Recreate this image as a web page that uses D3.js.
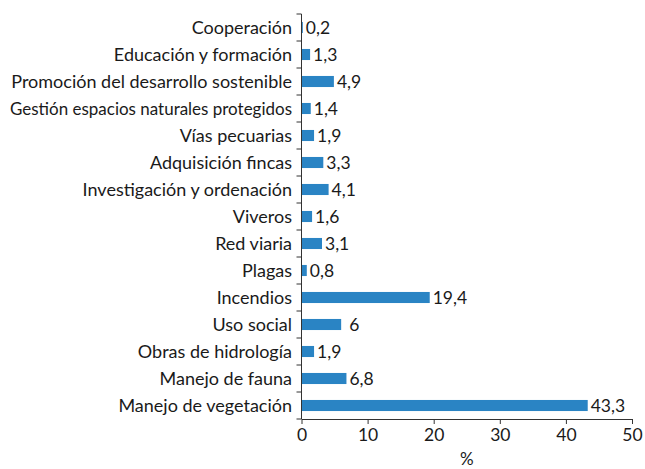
<!DOCTYPE html>
<html lang="es">
<head>
<meta charset="UTF-8">
<title>Inversión por actuación</title>
<script src="https://d3js.org/d3.v7.min.js"></script>
<style>
  body { margin: 0; background: #fff; }
  svg text { font-family: "Lato", "Noto Sans", sans-serif; fill: #1a1a1a; }
</style>
</head>
<body>
<div id="chart"></div>
<script>
    // categorías de arriba abajo
    var categories = [
        "Cooperación",
        "Educación y formación",
        "Promoción del desarrollo sostenible",
        "Gestión espacios naturales protegidos",
        "Vías pecuarias",
        "Adquisición fincas",
        "Investigación y ordenación",
        "Viveros",
        "Red viaria",
        "Plagas",
        "Incendios",
        "Uso social",
        "Obras de hidrología",
        "Manejo de fauna",
        "Manejo de vegetación"
    ];
    var values = [0.2, 1.3, 4.9, 1.4, 1.9, 3.3, 4.1, 1.6, 3.1, 0.8, 19.4, 6, 1.9, 6.8, 43.3];
    var xTicks = [0, 10, 20, 30, 40, 50];

    var width = 645, height = 469;
    var margin = { top: 14, right: 13, bottom: 50, left: 301.5 };

    var svg = d3.select("#chart").append("svg")
        .attr("width", width)
        .attr("height", height);

    var x = d3.scaleLinear()
        .domain([0, 50])
        .range([margin.left, width - margin.right]);

    var y = d3.scaleBand()
        .domain(categories)
        .range([margin.top, height - margin.bottom])
        .paddingInner(0.59)
        .paddingOuter(0.295);

    var fmt = function(v) { return String(v).replace(".", ","); };

    // barras
    svg.append("g")
        .selectAll("rect")
        .data(values)
        .enter().append("rect")
        .attr("x", x(0))
        .attr("y", (d, i) => y(categories[i]))
        .attr("width", d => x(d) - x(0))
        .attr("height", y.bandwidth())
        .attr("fill", "#2a84c4");

    // etiquetas de valor
    svg.append("g")
        .selectAll("text")
        .data(values)
        .enter().append("text")
        .attr("x", d => x(d) + (d === 6 ? 8 : 3))
        .attr("y", (d, i) => y(categories[i]) + y.bandwidth() / 2)
        .attr("dy", "0.36em")
        .attr("font-size", 17.5)
        .text(fmt);

    // eje x
    var xAxis = svg.append("g")
        .attr("transform", "translate(0," + (height - margin.bottom) + ")")
        .call(d3.axisBottom(x).tickValues(xTicks).tickSize(5).tickPadding(5).tickSizeOuter(0));
    xAxis.selectAll("text").attr("font-size", 17.5).attr("font-family", null);
    xAxis.selectAll("line, path").attr("stroke", "#333");

    svg.append("text")
        .attr("x", (x(0) + x(50)) / 2)
        .attr("y", 465)
        .attr("text-anchor", "middle")
        .attr("font-size", 17)
        .text("%");

    // eje y: línea y marcas entre categorías
    var rowH = (height - margin.bottom - margin.top) / categories.length;
    var yg = svg.append("g");
    yg.append("line")
        .attr("x1", x(0)).attr("x2", x(0))
        .attr("y1", margin.top).attr("y2", height - margin.bottom)
        .attr("stroke", "#333");
    yg.selectAll("line.tk")
        .data(d3.range(categories.length + 1))
        .enter().append("line")
        .attr("class", "tk")
        .attr("x1", x(0) - 5).attr("x2", x(0))
        .attr("y1", i => margin.top + i * rowH)
        .attr("y2", i => margin.top + i * rowH)
        .attr("stroke", "#333");

    var maxW = 282;
    yg.selectAll("text")
        .data(categories)
        .enter().append("text")
        .attr("x", 292)
        .attr("y", d => y(d) + y.bandwidth() / 2)
        .attr("dy", "0.36em")
        .attr("text-anchor", "end")
        .attr("font-size", 18)
        .text(d => d)
        .each(function() {
            // las etiquetas largas se comprimen para caber como en el original
            if (this.getComputedTextLength() > maxW) {
                d3.select(this).attr("textLength", maxW).attr("lengthAdjust", "spacingAndGlyphs");
            }
        });
</script>
</body>
</html>
